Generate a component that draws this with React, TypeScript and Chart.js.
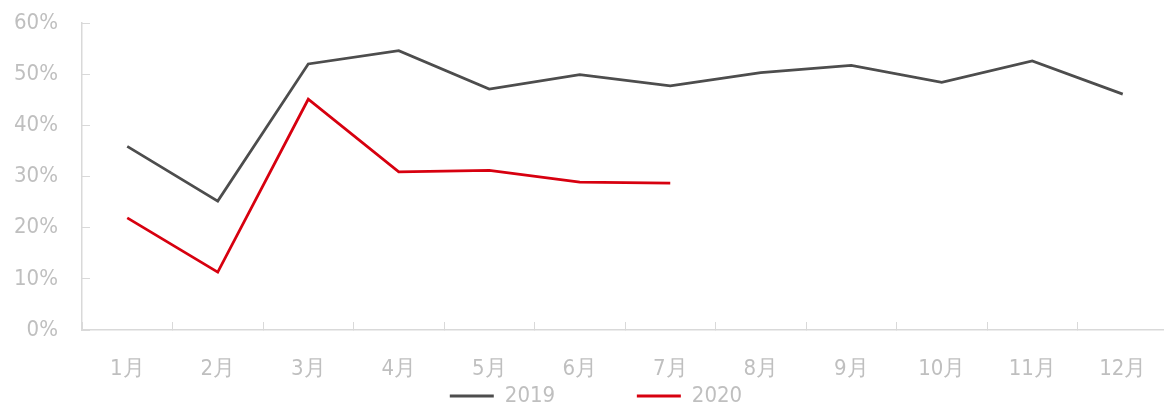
import React, { useEffect, useRef } from "react";
import { Chart, registerables } from "chart.js";

Chart.register(...registerables);

const categories = ["1月", "2月", "3月", "4月", "5月", "6月", "7月", "8月", "9月", "10月", "11月", "12月"];
const series2019 = [35.9, 25.2, 52.0, 54.6, 47.1, 49.9, 47.7, 50.3, 51.7, 48.4, 52.6, 46.1];
const series2020 = [21.9, 11.3, 45.1, 30.9, 31.2, 28.9, 28.7, null, null, null, null, null];
const seriesLabels = ["2019", "2020"];
const yTicks = { min: 0, max: 60, step: 10 };

const FONT = "'DejaVu Sans Condensed', 'DejaVu Sans', sans-serif";
const TEXT = "#bfbfbf";
const AXIS = "#d9d9d9";
const C2019 = "#4d4d4d";
const C2020 = "#d7000f";

export default function App() {
  const ref = useRef<HTMLCanvasElement | null>(null);

  useEffect(() => {
    if (!ref.current) return;
    const chart = new Chart(ref.current, {
      type: "line",
      data: {
        labels: categories,
        datasets: [
          {
            label: seriesLabels[0],
            data: series2019,
            borderColor: C2019,
            backgroundColor: C2019,
            borderWidth: 2.75,
            pointRadius: 0,
            tension: 0,
            fill: false,
          },
          {
            label: seriesLabels[1],
            data: series2020,
            borderColor: C2020,
            backgroundColor: C2020,
            borderWidth: 2.75,
            pointRadius: 0,
            tension: 0,
            fill: false,
            spanGaps: false,
          },
        ],
      },
      options: {
        animation: false,
        responsive: false,
        maintainAspectRatio: false,
        layout: { padding: { top: 23, left: 24, right: 0, bottom: 0 } },
        plugins: {
          tooltip: { enabled: false },
          legend: {
            position: "bottom",
            maxHeight: 22,
            labels: {
              boxWidth: 44,
              boxHeight: 3,
              padding: 0,
              color: TEXT,
              font: { family: FONT, size: 22 },
              generateLabels(ch: any) {
                const items = (Chart.defaults.plugins.legend.labels as any).generateLabels(ch);
                return items.map((it: any, i: number) => ({
                  ...it,
                  lineWidth: 0,
                  strokeStyle: it.fillStyle,
                  text: i === 0 ? it.text + "             " : it.text,
                }));
              },
            },
          },
        },
        scales: {
          x: {
            type: "category",
            offset: true,
            border: { display: true, color: AXIS, width: 1.5 },
            grid: {
              offset: true,
              drawOnChartArea: false,
              drawTicks: true,
              tickLength: -8,
              color: AXIS,
              lineWidth: 1,
            },
            ticks: {
              color: TEXT,
              font: { family: FONT, size: 22 },
              padding: 34,
              maxRotation: 0,
              autoSkip: false,
            },
            afterFit(scale: any) {
              scale.height = 55;
              scale.paddingLeft = 0;
              scale.paddingRight = 0;
            },
          },
          y: {
            min: yTicks.min,
            max: yTicks.max,
            border: { display: true, color: AXIS, width: 1.5 },
            grid: {
              drawOnChartArea: false,
              drawTicks: true,
              tickLength: -8,
              color: AXIS,
              lineWidth: 1,
            },
            ticks: {
              stepSize: yTicks.step,
              color: TEXT,
              font: { family: FONT, size: 22 },
              padding: 32,
              callback: (v: any) => v + "%",
            },
            afterFit(scale: any) {
              scale.width = 58;
              scale.paddingTop = 14;
              scale.paddingBottom = 14;
              scale._computeLabelArea = () => undefined;
            },
          },
        },
      },
    });
    return () => chart.destroy();
  }, []);

  return (
    <div style={{ position: "absolute", left: 0, top: 0, width: 1164, height: 407, overflow: "hidden", background: "#fff" }}>
      <canvas ref={ref} width={1168} height={407} style={{ display: "block", width: 1168, height: 407 }} />
    </div>
  );
}
